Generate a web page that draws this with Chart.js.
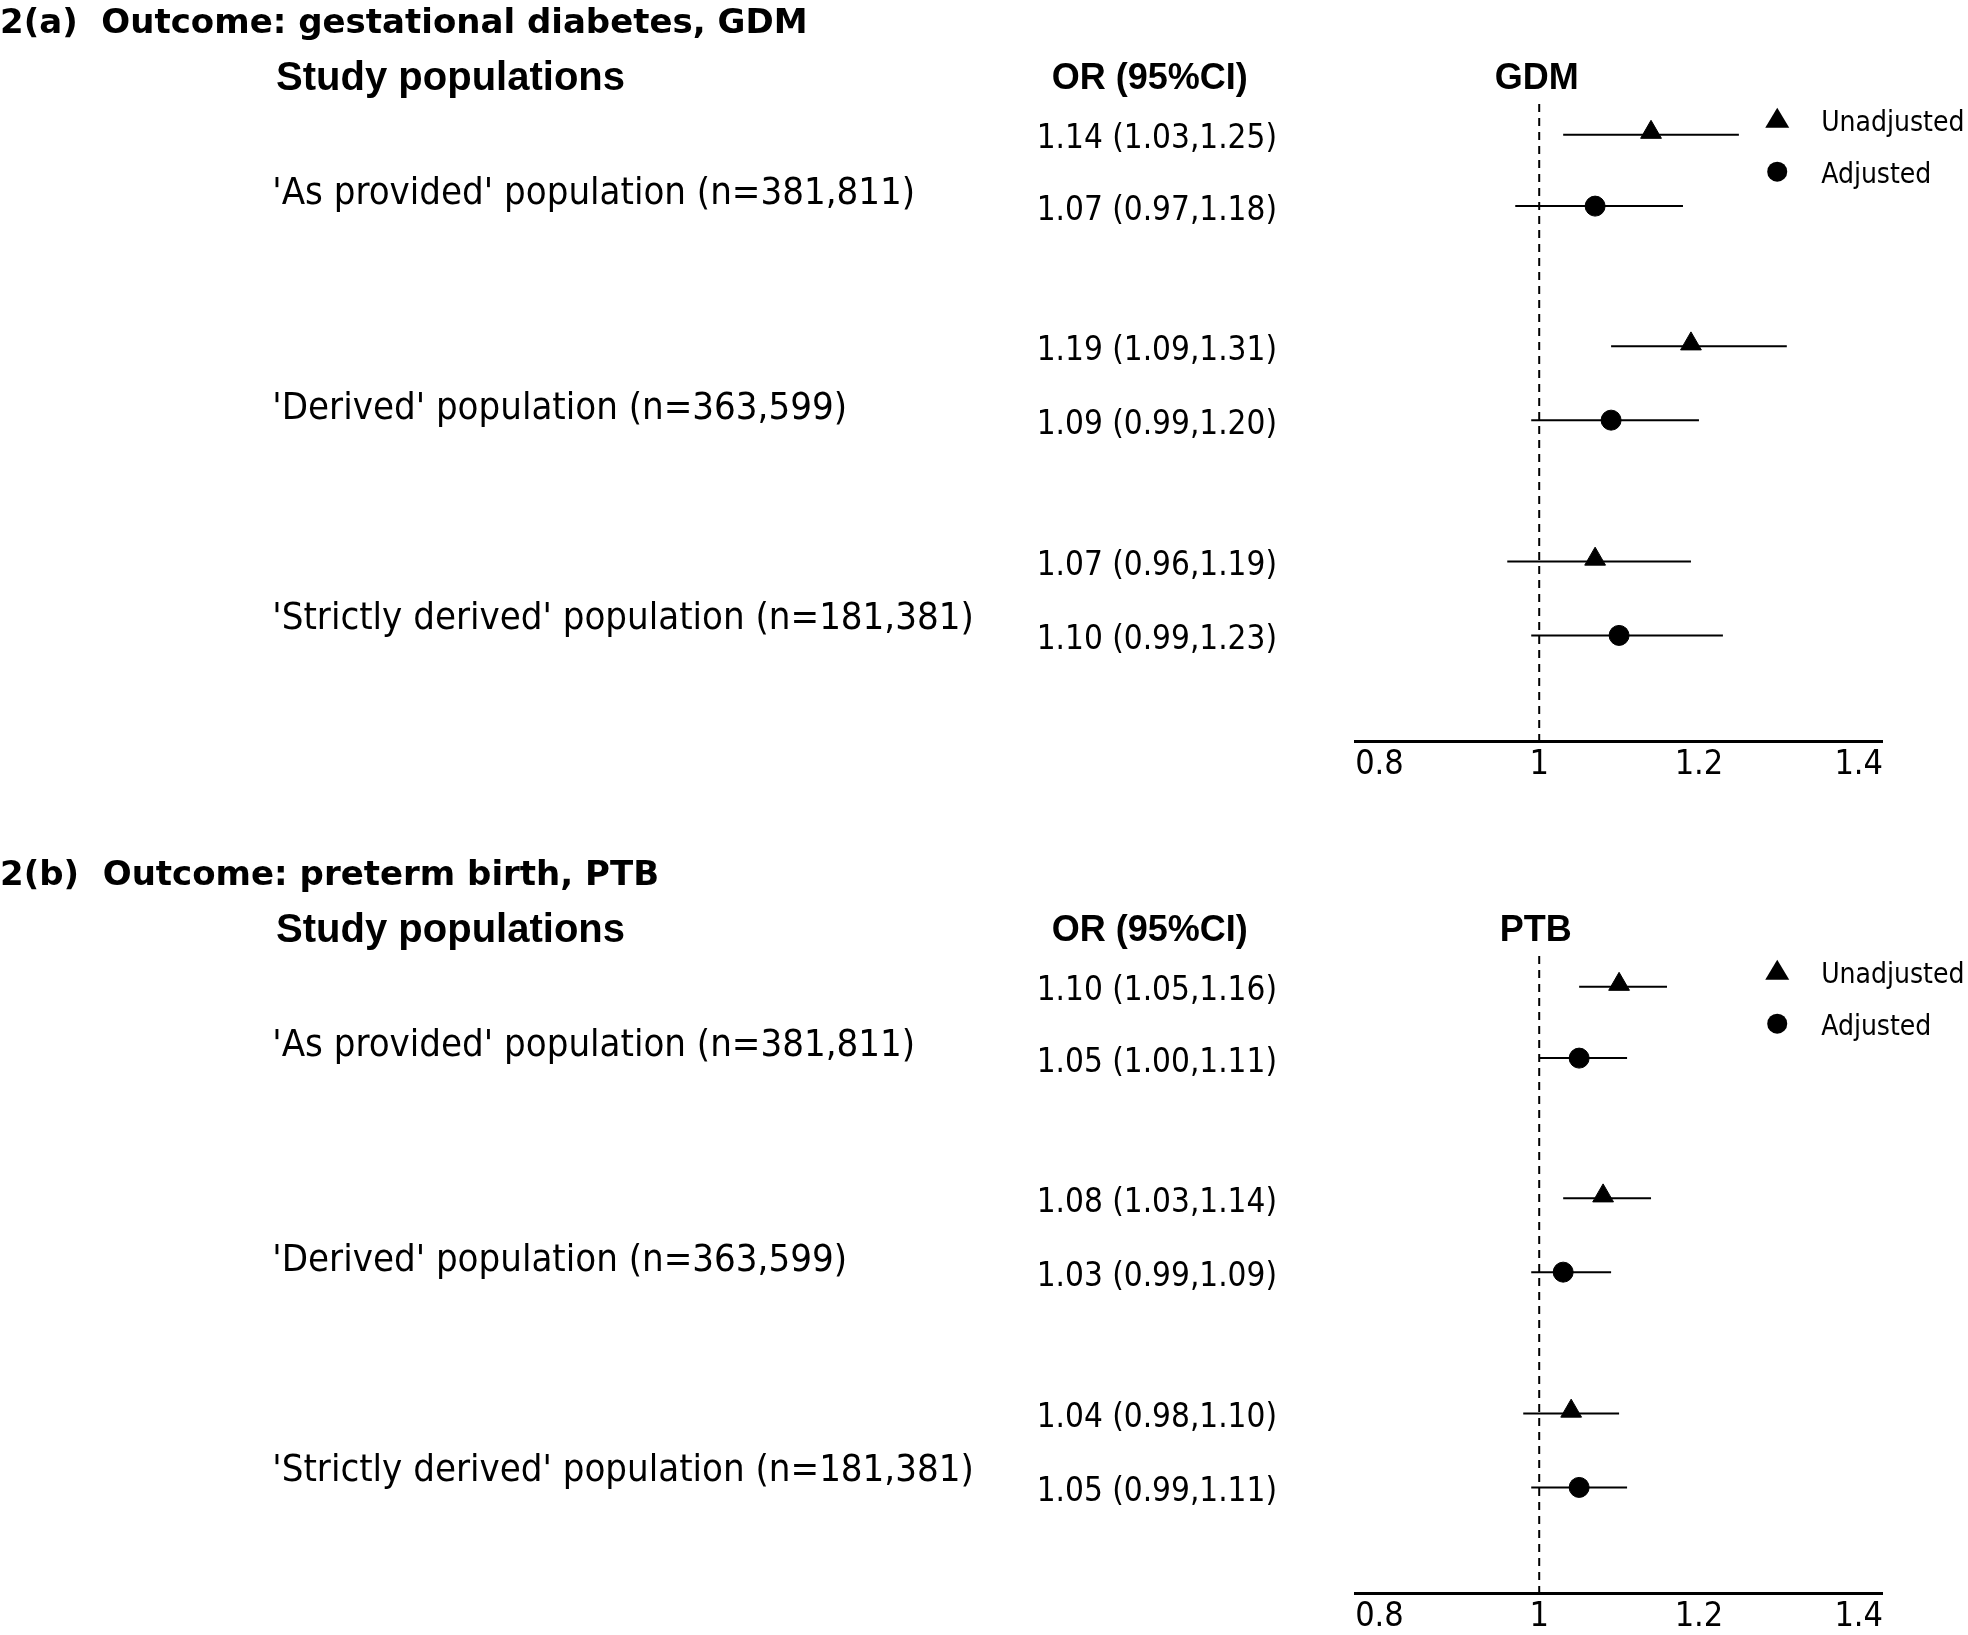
<!DOCTYPE html>
<html>
<head>
<meta charset="utf-8">
<script src="https://cdn.jsdelivr.net/npm/chart.js@4.4.1/dist/chart.umd.min.js"></script>
<style>
  html, body { margin: 0; padding: 0; background: #fff; overflow: hidden; }
  .panel { position: relative; width: 1968px; height: 852px; }
</style>
</head>
<body>
<div class="panel"><canvas id="chart-gdm" width="1968" height="852"></canvas></div>
<div class="panel"><canvas id="chart-ptb" width="1968" height="852"></canvas></div>
<script>
// Display-to-pixel factor (layout was measured on a 1568px wide copy)
const S = 1968 / 1568;

// Row positions (in layout units) for each estimate
const ROW_Y = [99, 157, 271, 331, 446, 506];
const POP_Y = [147, 322, 493];
const POPULATIONS = [
    "'As provided' population (n=381,811)",
    "'Derived' population (n=363,599)",
    "'Strictly derived' population (n=181,381)"
];

// OR, lower, upper -- unadjusted / adjusted per population
const panels = [
    {
        id: 'chart-gdm',
        title: '2(a)  Outcome: gestational diabetes, GDM',
        label: 'GDM',
        rows: [
            { or: 1.14, lo: 1.03, hi: 1.25, adj: false },
            { or: 1.07, lo: 0.97, hi: 1.18, adj: true },
            { or: 1.19, lo: 1.09, hi: 1.31, adj: false },
            { or: 1.09, lo: 0.99, hi: 1.20, adj: true },
            { or: 1.07, lo: 0.96, hi: 1.19, adj: false },
            { or: 1.10, lo: 0.99, hi: 1.23, adj: true }
        ]
    },
    {
        id: 'chart-ptb',
        title: '2(b)  Outcome: preterm birth, PTB',
        label: 'PTB',
        rows: [
            { or: 1.10, lo: 1.05, hi: 1.16, adj: false },
            { or: 1.05, lo: 1.00, hi: 1.11, adj: true },
            { or: 1.08, lo: 1.03, hi: 1.14, adj: false },
            { or: 1.03, lo: 0.99, hi: 1.09, adj: true },
            { or: 1.04, lo: 0.98, hi: 1.10, adj: false },
            { or: 1.05, lo: 0.99, hi: 1.11, adj: true }
        ]
    }
];

const fmt = v => v.toFixed(2);

// Text columns, headers and legend drawn on the y scale
const textPlugin = {
    id: 'forestText',
    afterDraw(chart) {
        const p = chart.config.options.plugins.forestText;
        const ctx = chart.ctx;
        const y = chart.scales.y;
        const py = v => y.getPixelForValue(v);
        ctx.save();
        ctx.fillStyle = '#000';
        ctx.textBaseline = 'middle';
        ctx.textAlign = 'left';

        ctx.font = 'bold 34px "DejaVu Sans"';
        ctx.fillText(p.title, 0, py(9));

        ctx.font = 'bold 40px "Liberation Sans"';
        ctx.fillText('Study populations', 220 * S, py(54));
        ctx.font = 'bold 36px "Liberation Sans"';
        ctx.fillText('OR (95%CI)', 838 * S, py(54));
        ctx.fillText(p.label, (p.label === 'GDM' ? 1191 : 1195) * S, py(54));

        ctx.font = '38px "DejaVu Sans Condensed"';
        POPULATIONS.forEach((t, i) => ctx.fillText(t, 217 * S, py(POP_Y[i])));

        ctx.font = '33px "DejaVu Sans Condensed"';
        p.rows.forEach((r, i) => {
            ctx.fillText(`${fmt(r.or)} (${fmt(r.lo)},${fmt(r.hi)})`, 826 * S, py(ROW_Y[i] + 4));
        });

        // legend
        ctx.font = '28px "DejaVu Sans Condensed"';
        ctx.fillText('Unadjusted', 1451 * S, py(90));
        ctx.fillText('Adjusted', 1451 * S, py(132));
        ctx.beginPath();
        const lx = 1416 * S, ty = py(86);
        ctx.moveTo(lx, ty - 11); ctx.lineTo(lx + 12, ty + 9); ctx.lineTo(lx - 12, ty + 9);
        ctx.closePath(); ctx.fill();
        ctx.beginPath(); ctx.arc(lx, py(129), 10, 0, Math.PI * 2); ctx.fill();
        ctx.restore();
    }
};

panels.forEach(panel => {
    const datasets = [];
    // reference line at OR = 1
    datasets.push({
        data: [{ x: 1, y: 74 }, { x: 1, y: 592 }],
        showLine: true, borderColor: '#000', borderWidth: 2,
        borderDash: [8, 6], pointRadius: 0
    });
    panel.rows.forEach((r, i) => {
        datasets.push({
            data: [{ x: r.lo, y: ROW_Y[i] }, { x: r.hi, y: ROW_Y[i] }],
            showLine: true, borderColor: '#000', borderWidth: 2, pointRadius: 0
        });
    });
    datasets.push({
        data: panel.rows.map((r, i) => ({ x: r.or, y: ROW_Y[i] - (r.adj ? 0 : 2) })),
        pointStyle: panel.rows.map(r => r.adj ? 'circle' : 'triangle'),
        pointRadius: panel.rows.map(r => r.adj ? 10 : 12),
        backgroundColor: '#000', borderColor: '#000'
    });

    new Chart(document.getElementById(panel.id), {
        type: 'scatter',
        data: { datasets },
        plugins: [textPlugin],
        options: {
            responsive: false,
            animation: false,
            layout: { padding: { left: 1080 * S, right: 1968 - 1500 * S, top: 0, bottom: 62 } },
            scales: {
                x: {
                    min: 0.77, max: 1.43,
                    afterBuildTicks: axis => { axis.ticks = [0.8, 1, 1.2, 1.4].map(v => ({ value: v })); },
                    grid: { display: false, drawTicks: false },
                    border: { color: '#000', width: 3 },
                    ticks: {
                        color: '#000', padding: 4,
                        font: { family: 'DejaVu Sans Condensed', size: 34 },
                        callback: v => String(v)
                    }
                },
                y: { display: false, reverse: true, min: 0, max: 592 }
            },
            plugins: {
                legend: { display: false },
                tooltip: { enabled: false },
                forestText: { title: panel.title, label: panel.label, rows: panel.rows }
            }
        }
    });
});
</script>
</body>
</html>
